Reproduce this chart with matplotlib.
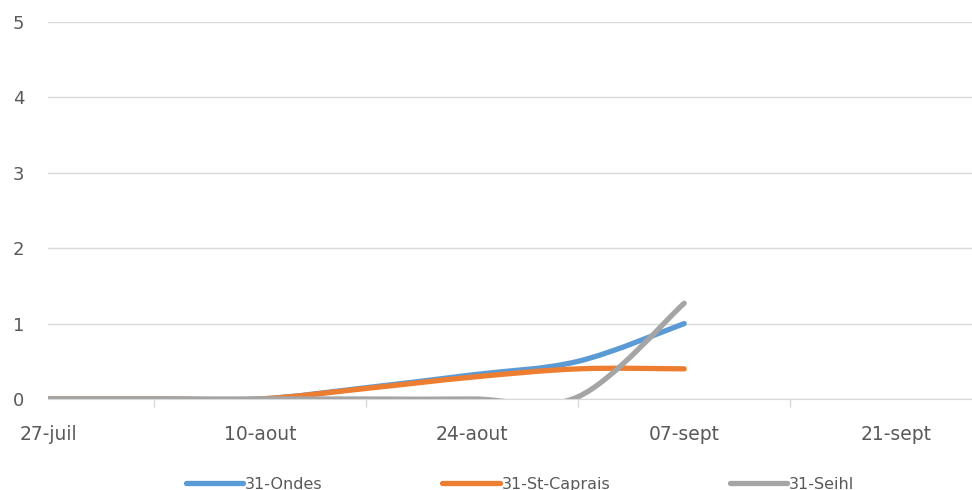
import matplotlib
matplotlib.use("Agg")
import matplotlib.pyplot as plt
import matplotlib.dates as mdates
from matplotlib.path import Path
from matplotlib.patches import PathPatch
from matplotlib.lines import Line2D
import pandas as pd

plt.rcParams["font.family"] = ["DejaVu Sans"]

# weekly observations
dates = ["2020-07-27", "2020-08-03", "2020-08-10", "2020-08-17",
         "2020-08-24", "2020-08-31", "2020-09-07"]
ondes = [0, 0, 0, 0.15, 0.32, 0.50, 1.00]
st_caprais = [0, 0, 0, 0.14, 0.29, 0.40, 0.40]
seihl = [0, 0, 0, 0, 0, 0.03, 1.27]

series_names = ["31-Ondes", "31-St-Caprais", "31-Seihl"]
series_colors = ["#5b9bd5", "#ed7d31", "#a5a5a5"]

tick_dates = ["2020-07-27", "2020-08-10", "2020-08-24", "2020-09-07", "2020-09-21"]
tick_labels = ["27-juil", "10-aout", "24-aout", "07-sept", "21-sept"]
y_ticks = [0, 1, 2, 3, 4, 5]

x = mdates.date2num(pd.to_datetime(dates))


def smooth_path(xs, ys):
    # bezier segments through the points, Excel-like smoothing
    pts = list(zip(xs, ys))
    n = len(pts)
    verts = [pts[0]]
    codes = [Path.MOVETO]
    for i in range(n - 1):
        p0 = pts[i - 1] if i > 0 else pts[i]
        p1 = pts[i]
        p2 = pts[i + 1]
        p3 = pts[i + 2] if i + 2 < n else pts[i + 1]
        c1 = (p1[0] + (p2[0] - p0[0]) / 6, p1[1] + (p2[1] - p0[1]) / 6)
        c2 = (p2[0] - (p3[0] - p1[0]) / 6, p2[1] - (p3[1] - p1[1]) / 6)
        verts += [c1, c2, p2]
        codes += [Path.CURVE4] * 3
    return Path(verts, codes)


fig = plt.figure(figsize=(9.72, 4.9), dpi=100)
ax = fig.add_axes([48 / 972, 1 - 399 / 490, 924 / 972, 377 / 490])

for vals, name, col in zip([ondes, st_caprais, seihl], series_names, series_colors):
    patch = PathPatch(smooth_path(x, vals), facecolor="none", edgecolor=col,
                      lw=3.8, capstyle="round", joinstyle="round", zorder=3)
    ax.add_patch(patch)

x0 = x[0]
ax.set_xlim(x0, x0 + 61)
ax.set_ylim(0, 5)

ax.set_yticks(y_ticks)
ax.set_xticks(mdates.date2num(pd.to_datetime(tick_dates)))
ax.set_xticklabels(tick_labels)
ax.set_xticks([x0 + d for d in range(0, 62, 7)], minor=True)

ax.grid(axis="y", color="#d9d9d9", lw=1)
ax.set_axisbelow(True)
for s in ["top", "right", "left"]:
    ax.spines[s].set_visible(False)
ax.spines["bottom"].set_color("#d9d9d9")
ax.tick_params(axis="y", length=0, pad=17, labelsize=13, labelcolor="#595959")
ax.tick_params(axis="x", which="major", length=0, pad=19, labelsize=13.5, labelcolor="#595959")
ax.tick_params(axis="x", which="minor", length=6, color="#d9d9d9", width=1)

handles = [Line2D([], [], color=c, lw=3.8, solid_capstyle="round") for c in series_colors]
fig.legend(handles, series_names, loc="center", bbox_to_anchor=(0.535, 0.012),
           ncol=3, frameon=False, fontsize=11.5, handlelength=3.6, columnspacing=7.5,
           handletextpad=0.1, labelcolor="#595959")

fig.savefig("out.png", dpi=100)
